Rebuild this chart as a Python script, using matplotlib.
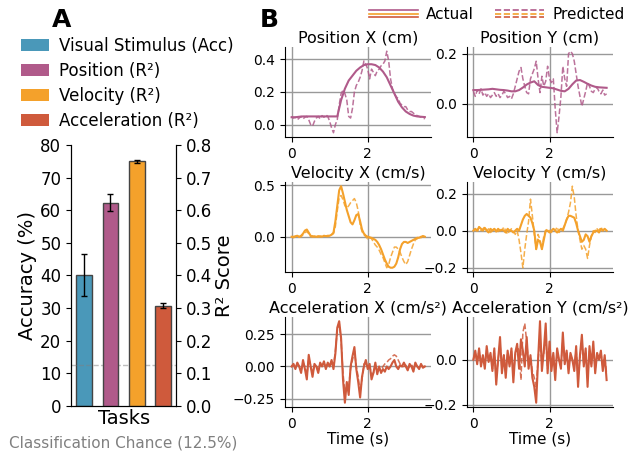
import numpy as np
import matplotlib.pyplot as plt
from matplotlib.lines import Line2D
from matplotlib.patches import Patch
from matplotlib.legend_handler import HandlerBase

# ---- panel A data
task_names = ['Visual Stimulus (Acc)', 'Position (R²)', 'Velocity (R²)', 'Acceleration (R²)']
acc_val = 40.2
acc_err = 6.5
r2_vals = [0.623, 0.75, 0.307]
r2_errs = [0.027, 0.004, 0.008]
chance = 12.5

bar_colors = ['#4A98B9', '#B05A8A', '#F4A12B', '#CF5A3C']

# ---- panel B data (time in s)
t_coarse = np.arange(36) * 0.1
t_fine = np.arange(71) * 0.05

pos_x_true = [0.045, 0.045, 0.048, 0.05, 0.05, 0.05, 0.05, 0.05, 0.05, 0.05, 0.05, 0.05, 0.05,
              0.15, 0.22, 0.27, 0.3, 0.33, 0.35, 0.365, 0.37, 0.37, 0.365, 0.35, 0.325, 0.29,
              0.24, 0.19, 0.14, 0.105, 0.08, 0.065, 0.055, 0.05, 0.048, 0.046]
pos_x_pred = [0.05, 0.04, 0.045, 0.03, 0.04, 0.05, 0.035, 0.045, 0.05, 0.03, 0.0, -0.01, 0.02, 0.04, 0.05, 0.035, 0.055, 0.045, 0.06, 0.05,
              0.02, -0.02, -0.05, 0.0, 0.03, 0.12, 0.19, 0.21, 0.19, 0.15, 0.05, 0.04, 0.1, 0.2, 0.24, 0.26, 0.29, 0.33, 0.39, 0.37,
              0.34, 0.28, 0.34, 0.32, 0.3, 0.33, 0.34, 0.36, 0.37, 0.39, 0.45, 0.39, 0.28, 0.22, 0.19, 0.17, 0.16, 0.13, 0.12, 0.11,
              0.11, 0.09, 0.08, 0.08, 0.07, 0.06, 0.055, 0.05, 0.045, 0.04, 0.035]

pos_y_true = [0.055, 0.055, 0.056, 0.057, 0.058, 0.06, 0.058, 0.056, 0.055, 0.053, 0.05,
              0.05, 0.055, 0.065, 0.077, 0.085, 0.09, 0.075, 0.068, 0.066, 0.064, 0.062, 0.057, 0.052,
              0.05, 0.06, 0.078, 0.093, 0.095, 0.088, 0.08, 0.073, 0.068, 0.066, 0.065, 0.064]
pos_y_pred = [0.05, 0.03, 0.055, 0.04, 0.06, 0.035, 0.045, 0.03, 0.04, 0.025, 0.035, 0.045, 0.03, 0.04, 0.025, 0.035, 0.05, 0.04, 0.025, 0.03,
              0.02, 0.04, 0.07, 0.1, 0.13, 0.145, 0.1, 0.07, 0.045, 0.04, 0.1, 0.12, 0.14, 0.17, 0.1, 0.045, 0.11, 0.07, 0.09, 0.15,
              0.1, 0.085, 0.1, -0.02, -0.115, -0.05, 0.03, 0.15, 0.1, 0.07, 0.2, 0.21, 0.2, 0.17, 0.12, 0.07, 0.03, -0.01, 0.02, 0.05,
              0.085, 0.07, 0.05, 0.045, 0.06, 0.065, 0.05, 0.04, 0.055, 0.035, 0.04]

vel_x_true = [0.0, 0.0, 0.005, 0.01, 0.0, 0.01, 0.03, 0.06, 0.07, 0.04, 0.01, 0.0, 0.005, 0.0, 0.0, 0.005, 0.0, 0.01, 0.005, 0.01,
              0.01, 0.02, 0.04, 0.15, 0.3, 0.45, 0.49, 0.42, 0.34, 0.26, 0.2, 0.14, 0.12, 0.16, 0.21, 0.22, 0.15, 0.07, 0.03, 0.01,
              0.0, -0.01, -0.01, -0.02, -0.03, -0.05, -0.08, -0.12, -0.17, -0.22, -0.26, -0.29, -0.3, -0.3, -0.29, -0.26, -0.2, -0.12, -0.07, -0.05,
              -0.05, -0.06, -0.05, -0.04, -0.03, -0.02, -0.01, -0.01, 0.0, 0.005, 0.0]
vel_x_pred = [0.0, -0.01, 0.0, 0.01, -0.005, 0.0, 0.02, 0.04, 0.05, 0.03, 0.0, 0.01, -0.005, 0.0, 0.01, 0.0, 0.005, 0.0, 0.01, 0.0,
              0.01, 0.02, 0.03, 0.1, 0.25, 0.38, 0.4, 0.36, 0.3, 0.28, 0.3, 0.33, 0.35, 0.37, 0.33, 0.25, 0.12, 0.05, 0.02, 0.0,
              -0.02, 0.0, -0.02, -0.05, -0.08, -0.1, -0.13, -0.17, -0.2, -0.25, -0.3, -0.27, -0.2, -0.15, -0.1, -0.1, -0.12, -0.15, -0.2, -0.24,
              -0.27, -0.24, -0.18, -0.12, -0.07, -0.03, -0.02, 0.0, -0.01, 0.01, 0.0]

vel_y_true = [0.0, 0.01, 0.0, 0.02, 0.01, 0.0, 0.015, 0.0, -0.01, 0.01, 0.0, 0.01, -0.005, 0.01, 0.0, 0.005, 0.0, -0.01, 0.01, 0.0,
              0.0, -0.01, 0.0, 0.01, 0.0, 0.03, 0.06, 0.08, 0.09, 0.08, 0.07, 0.04, 0.0, -0.1, -0.05, -0.06, -0.1, -0.05, 0.0, 0.0,
              -0.01, 0.0, 0.01, 0.0, -0.01, 0.0, 0.01, 0.0, 0.03, 0.06, 0.08, 0.08, 0.075, 0.07, 0.04, 0.0, -0.03, -0.06, -0.05, -0.02,
              -0.03, -0.06, -0.03, -0.01, 0.0, 0.0, -0.01, 0.01, 0.0, 0.01, 0.0]
vel_y_pred = [0.0, 0.01, -0.01, 0.02, 0.0, 0.01, 0.02, 0.0, 0.01, -0.01, 0.0, 0.015, 0.0, -0.005, 0.01, 0.0, 0.02, 0.0, -0.02, 0.0,
              0.01, 0.0, -0.02, 0.0, -0.05, -0.12, -0.2, -0.1, -0.02, 0.05, 0.17, 0.08, -0.02, -0.1, -0.02, -0.05, -0.1, -0.03, 0.0, 0.01,
              0.0, -0.01, 0.01, 0.0, 0.02, -0.01, 0.0, 0.01, 0.03, 0.06, 0.1, 0.15, 0.24, 0.18, 0.08, 0.0, -0.05, -0.1, -0.08, -0.1,
              -0.15, -0.08, -0.03, 0.0, -0.01, 0.01, 0.0, 0.02, 0.0, 0.01, 0.0]

acc_x_true = [0.0, 0.02, -0.02, 0.03, 0.0, -0.05, 0.05, -0.02, -0.1, 0.09, 0.0, -0.08, 0.02, 0.0, -0.05, 0.03, 0.0, 0.04, -0.02, 0.03,
              0.0, 0.05, -0.02, 0.1, 0.3, 0.35, 0.22, -0.1, -0.28, -0.12, -0.22, 0.0, 0.08, 0.15, -0.02, -0.12, -0.24, -0.08, 0.0, 0.05,
              -0.02, 0.02, -0.1, -0.05, 0.03, -0.06, 0.0, -0.05, -0.02, -0.04, 0.0, -0.02, 0.0, 0.03, 0.05, 0.0, -0.02, 0.01, 0.0, 0.03,
              0.0, -0.03, 0.02, 0.0, -0.04, 0.03, 0.0, -0.02, 0.02, -0.01, 0.0]
acc_x_pred = [0.0, 0.01, -0.01, 0.02, 0.0, -0.03, 0.03, 0.0, -0.07, 0.06, 0.01, -0.05, 0.0, 0.01, -0.03, 0.02, 0.01, 0.02, 0.0, 0.02,
              0.0, 0.03, 0.0, 0.12, 0.28, 0.33, 0.2, -0.05, -0.2, -0.15, -0.15, -0.02, 0.05, 0.12, 0.0, -0.08, -0.2, -0.1, 0.02, 0.03,
              0.0, 0.0, -0.06, -0.05, 0.0, -0.04, -0.02, -0.03, 0.0, 0.02, 0.03, 0.05, 0.06, 0.08, 0.09, 0.08, 0.05, 0.02, 0.0, 0.0,
              0.01, -0.02, 0.0, 0.02, -0.02, 0.01, 0.0, -0.01, 0.01, 0.0, 0.0]

acc_y_true = [0.0, 0.04, -0.02, 0.05, -0.03, 0.02, -0.04, 0.06, -0.01, 0.03, -0.05, 0.05, -0.11, 0.0, 0.1, -0.06, 0.02, -0.08, 0.04, -0.03,
              0.05, -0.1, 0.03, 0.07, -0.04, 0.09, 0.04, -0.03, 0.1, -0.04, 0.02, -0.08, -0.12, -0.19, 0.0, 0.17, -0.05, 0.04, 0.16, -0.06,
              0.08, -0.05, 0.03, -0.09, 0.05, 0.0, -0.04, 0.12, -0.02, 0.04, -0.06, 0.03, 0.0, -0.05, 0.06, -0.12, 0.02, 0.11, -0.03, 0.05,
              -0.12, 0.06, -0.03, 0.08, -0.06, 0.03, 0.0, 0.04, -0.05, 0.02, -0.09]
acc_y_pred = [0.0, 0.03, -0.01, 0.04, -0.02, 0.01, -0.03, 0.04, 0.0, 0.02, -0.04, 0.03, -0.08, 0.0, 0.07, -0.04, 0.02, -0.05, 0.03, -0.02,
              0.04, -0.07, 0.02, 0.06, 0.04, -0.09, 0.12, 0.16, 0.08, -0.02, 0.01, -0.05, -0.08, -0.12, 0.0, 0.1, -0.03, 0.03, 0.1, -0.04,
              0.05, -0.03, 0.02, -0.06, 0.03, 0.0, -0.03, 0.09, -0.01, 0.03, -0.04, 0.02, 0.0, -0.03, 0.04, -0.08, 0.01, 0.08, -0.02, 0.03,
              -0.08, 0.04, -0.02, 0.05, -0.04, 0.02, 0.0, 0.03, -0.03, 0.01, -0.06]

line_colors = bar_colors[1:]


class StackHandler(HandlerBase):
    # three lines stacked on top of each other, one per kinematic variable
    def __init__(self, ls):
        super().__init__()
        self.ls = ls

    def create_artists(self, legend, orig_handle, xdescent, ydescent, width, height, fontsize, trans):
        arts = []
        for k, c in enumerate(line_colors):
            y = height / 2 - ydescent + (1 - k) * 0.36 * height
            arts.append(Line2D([-xdescent, width - xdescent], [y, y], color=c, ls=self.ls,
                               lw=1.2, transform=trans))
        return arts


fig = plt.figure(figsize=(6.29, 4.53), dpi=100)

# ---------------- panel A
axA = fig.add_axes([0.113, 0.104, 0.167, 0.576])
axA.bar([0], [acc_val], 0.6, yerr=[acc_err], color=bar_colors[0], edgecolor='#444444',
        linewidth=1, capsize=2, error_kw={'elinewidth': 1})
axA.axhline(chance, ls='--', color='gray', alpha=0.5, lw=1)
axA.set_ylim(0, 80)
axA.set_yticks(np.arange(0, 81, 10))
axA.set_xlim(-0.5, 3.5)
axA.set_xticks([])
axA.set_ylabel('Accuracy (%)', fontsize=14, labelpad=2)
axA.set_xlabel('Tasks', fontsize=14, labelpad=2)
axA.tick_params(labelsize=12)
axA.spines['top'].set_visible(False)

axA2 = axA.twinx()
axA2.bar([1, 2, 3], r2_vals, 0.6, yerr=r2_errs, color=bar_colors[1:], edgecolor='#444444',
         linewidth=1, capsize=2, error_kw={'elinewidth': 1})
axA2.set_ylim(0, 0.8)
axA2.set_yticks(np.arange(0, 0.81, 0.1))
axA2.set_ylabel('R² Score', fontsize=14, labelpad=2)
axA2.tick_params(labelsize=12)
axA2.spines['top'].set_visible(False)

fig.text(0.196, 0.012, 'Classification Chance (12.5%)', color='gray', fontsize=11, ha='center')

handles = [Patch(facecolor=c, label=n) for c, n in zip(bar_colors, task_names)]
fig.legend(handles=handles, loc='upper left', bbox_to_anchor=(0.033, 0.918), frameon=False,
           fontsize=12, handlelength=1.7, handleheight=0.75, handletextpad=0.6,
           labelspacing=0.42, borderpad=0, borderaxespad=0)

fig.text(0.083, 0.94, 'A', fontsize=18, fontweight='bold')
fig.text(0.413, 0.94, 'B', fontsize=18, fontweight='bold')

# ---------------- panel B
panels = [
    ('Position X (cm)', t_coarse, pos_x_true, pos_x_pred, line_colors[0]),
    ('Position Y (cm)', t_coarse, pos_y_true, pos_y_pred, line_colors[0]),
    ('Velocity X (cm/s)', t_fine, vel_x_true, vel_x_pred, line_colors[1]),
    ('Velocity Y (cm/s)', t_fine, vel_y_true, vel_y_pred, line_colors[1]),
    ('Acceleration X (cm/s²)', t_fine, acc_x_true, acc_x_pred, line_colors[2]),
    ('Acceleration Y (cm/s²)', t_fine, acc_y_true, acc_y_pred, line_colors[2]),
]
col_x = [0.453, 0.742]
row_y = [0.698, 0.400, 0.102]

for i, (title, t_true, y_true, y_pred, c) in enumerate(panels):
    r, col = divmod(i, 2)
    ax = fig.add_axes([col_x[col], row_y[r], 0.233, 0.198])
    ax.plot(t_true, y_true, color=c, lw=1.5)
    ax.plot(t_fine, y_pred, color=c, lw=1.1, ls='--', alpha=0.85)
    ax.locator_params(nbins=3)
    ax.grid(True, color='#999999', lw=1)
    ax.set_axisbelow(True)
    ax.set_title(title, fontsize=11.5, pad=3)
    ax.tick_params(labelsize=10)
    ax.spines['top'].set_visible(False)
    ax.spines['right'].set_visible(False)
    if r == 2:
        ax.set_xlabel('Time (s)', fontsize=11, labelpad=1)

hA = Line2D([], [])
hP = Line2D([], [])
fig.legend([hA, hP], ['Actual', 'Predicted'], handler_map={hA: StackHandler('-'), hP: StackHandler('--')},
           loc='upper right', bbox_to_anchor=(1.0, 0.995), ncol=2, frameon=False, fontsize=11,
           handlelength=3.2, handletextpad=0.55, columnspacing=1.35, borderpad=0.3, borderaxespad=0)

fig.savefig('out.png', dpi=100)
